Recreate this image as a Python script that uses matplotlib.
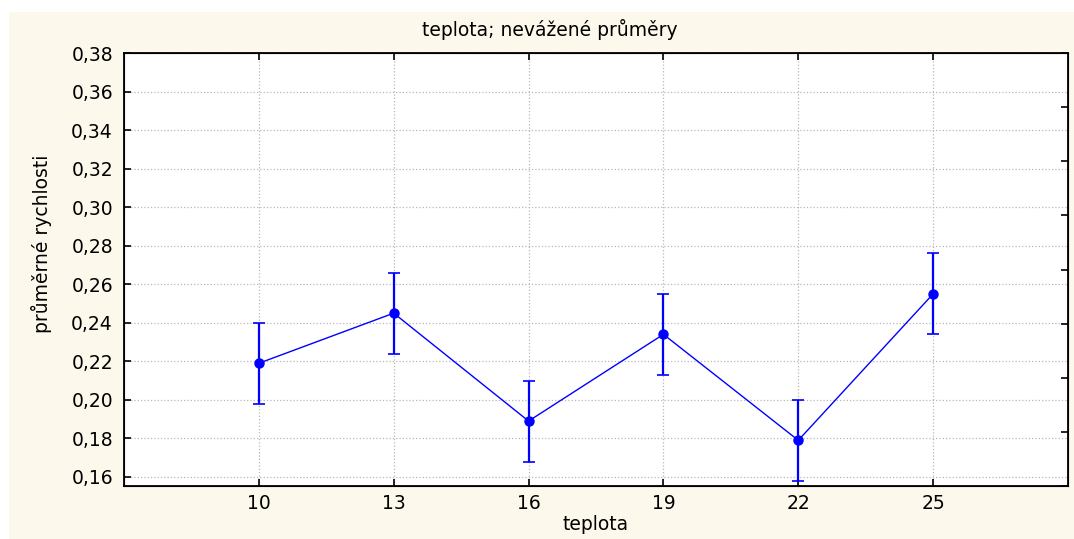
# Prumerne rychlosti podle teploty (neváženě průměry)

import numpy as np
import matplotlib.pyplot as plt
from matplotlib.patches import Rectangle
from matplotlib.ticker import FuncFormatter

teplota = [10, 13, 16, 19, 22, 25]  # teploty
prumery = [0.219, 0.245, 0.189, 0.234, 0.179, 0.255]  # prumerne rychlosti
chyby = [0.021, 0.021, 0.021, 0.021, 0.021, 0.021]  # pul sirky chybovych usecek
yticks = [0.16, 0.18, 0.20, 0.22, 0.24, 0.26, 0.28, 0.30, 0.32, 0.34, 0.36, 0.38]

plt.rcParams['font.family'] = ['DejaVu Sans']
fs = 13.5

fig = plt.figure(figsize=(10.74, 5.39), dpi=100)
fig.patch.set_facecolor('white')
# bezovy podklad
fig.patches.append(Rectangle((9 / 1074, 0), 1, 1 - 12 / 539, transform=fig.transFigure,
                             facecolor='#FDF8EC', edgecolor='none', zorder=-5))

ax = fig.add_axes([124 / 1074, 53 / 539, 944 / 1074, 433 / 539])
ax.set_facecolor('white')

ax.errorbar(teplota, prumery, yerr=chyby, color='#0000FF', linewidth=1.0,
            marker='o', markersize=6.5, elinewidth=1.6, capsize=4, capthick=1.2, zorder=3)

ax.set_xlim(7, 28)
ax.set_ylim(0.1553, 0.38)
ax.set_xticks(teplota)
ax.set_yticks(yticks)
ax.yaxis.set_major_formatter(FuncFormatter(lambda v, p: ('%.2f' % v).replace('.', ',')))
ax.grid(True, color='#B8B8B8', linestyle=':', linewidth=0.9)
ax.tick_params(direction='in', length=5, width=1.2, labelsize=fs, top=True, pad=8)
ax.tick_params(axis='x', pad=6)
for s in ax.spines.values():
    s.set_linewidth(1.3)

# prava osa bez popisku
ax2 = ax.twinx()
ax2.set_ylim(0, 8)
ax2.set_yticks(range(9))
ax2.set_yticklabels([])
ax2.tick_params(direction='in', length=5, width=1.2)

ax.set_xlabel('teplota', fontsize=fs)
ax.xaxis.set_label_coords(0.5, -0.09)
ax.xaxis.label.set_va('center')
ax.set_ylabel('průměrné rychlosti', fontsize=fs)
ax.yaxis.set_label_coords(-0.087, 0.56)
ax.yaxis.label.set_va('center')
fig.text(550 / 1074, 1 - 30 / 539, 'teplota; nevážené průměry', ha='center', va='center', fontsize=fs)

plt.savefig('out.png', dpi=100, facecolor=fig.get_facecolor())
